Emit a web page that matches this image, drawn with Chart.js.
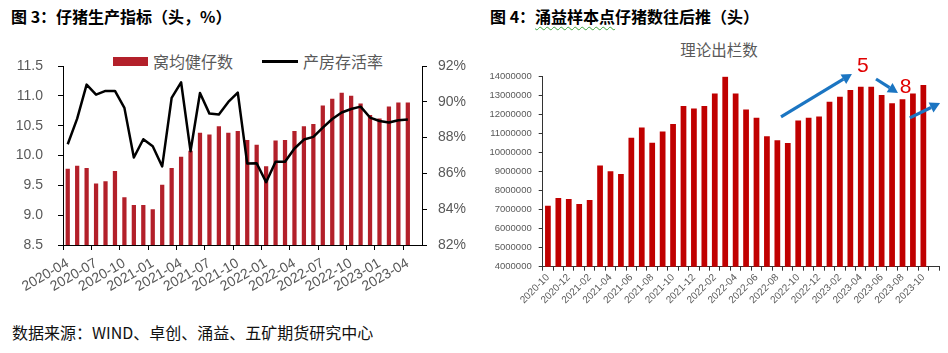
<!DOCTYPE html>
<html><head><meta charset="utf-8">
<script src="https://cdn.jsdelivr.net/npm/chart.js@4/dist/chart.umd.min.js"></script>
<style>
html,body{margin:0;padding:0;background:#fff;width:948px;height:353px;overflow:hidden;position:relative;font-family:"Noto Sans CJK SC",sans-serif}
.t{position:absolute;white-space:nowrap;line-height:1}
#t1{left:11px;top:8px;font-size:16px;font-weight:bold;color:#000}
#t2{left:490px;top:8px;font-size:16px;font-weight:bold;color:#000}
#t2 .wv{text-decoration:underline wavy #3ba33b;text-decoration-thickness:1px;text-underline-offset:3px}
#src{left:12px;top:324px;font-size:16px;color:#111}
#ct2{left:619px;top:42px;width:200px;text-align:center;font-size:15.5px;color:#595959}
#c1{position:absolute;left:0;top:40px}
#c2{position:absolute;left:470px;top:50px}
.lg{position:absolute;font-size:16px;color:#595959;line-height:1;white-space:nowrap}
.sw{position:absolute}
</style></head>
<body>
<div class="t" id="t1">图 3：仔猪生产指标（头，%）</div>
<div class="t" id="t2">图 4：<span class="wv">涌益样本点</span>仔猪数往后推（头）</div>
<div class="t" id="ct2">理论出栏数</div>
<div class="t" id="src">数据来源：WIND、卓创、涌益、五矿期货研究中心</div>
<div id="legend1"></div>
<canvas id="c1" width="470" height="280"></canvas>
<canvas id="c2" width="478" height="270"></canvas>
<script>
// ---------- Chart 3 data ----------
const leftMonths = ['2020-04','2020-05','2020-06','2020-07','2020-08','2020-09','2020-10','2020-11','2020-12',
  '2021-01','2021-02','2021-03','2021-04','2021-05','2021-06','2021-07','2021-08','2021-09','2021-10','2021-11','2021-12',
  '2022-01','2022-02','2022-03','2022-04','2022-05','2022-06','2022-07','2022-08','2022-09','2022-10','2022-11','2022-12',
  '2023-01','2023-02','2023-03','2023-04','2023-05'];
const leftSeriesNames = ['窝均健仔数','产房存活率'];
const litterSize = [9.78,9.83,9.79,9.53,9.57,9.74,9.30,9.17,9.17,
  9.10,9.51,9.79,9.98,10.08,10.38,10.35,10.49,10.38,10.41,10.26,10.18,
  9.82,10.25,10.26,10.41,10.49,10.53,10.84,10.95,11.05,11.00,10.87,10.68,
  10.62,10.82,10.89,10.89,null];
const survivalRate = [87.63,89.06,90.96,90.40,90.61,90.61,89.66,86.89,87.91,
  87.52,86.39,90.22,91.09,87.24,90.49,89.34,89.29,89.99,90.51,86.55,86.57,
  85.51,86.65,86.65,87.39,87.89,88.04,88.56,89.04,89.40,89.60,89.73,89.12,
  88.93,88.84,88.97,89.01,null];

// ---------- Chart 4 data ----------
const rightMonths = ['2020-10','2020-11','2020-12',
  '2021-01','2021-02','2021-03','2021-04','2021-05','2021-06','2021-07','2021-08','2021-09','2021-10','2021-11','2021-12',
  '2022-01','2022-02','2022-03','2022-04','2022-05','2022-06','2022-07','2022-08','2022-09','2022-10','2022-11','2022-12',
  '2023-01','2023-02','2023-03','2023-04','2023-05','2023-06','2023-07','2023-08','2023-09','2023-10','2023-11'];
const rightSeriesName = '理论出栏数';
const pigletOut = [7210000,7610000,7560000,
  7300000,7510000,9330000,9020000,8880000,10790000,11320000,10530000,11110000,11510000,12460000,12330000,
  12460000,13120000,14020000,13120000,12280000,11840000,10860000,10650000,10510000,11700000,11840000,11910000,
  12680000,12950000,13300000,13470000,13470000,13040000,12600000,12810000,13120000,13560000,null];

// annotations (category index, value)
const arrowStarts = [[22.35,11880000],[31.46,13880000],[34.7,11830000]];
const arrowEnds   = [[29.15,14140000],[33.57,13140000],[37.6,12610000]];
const noteTexts = ['5','8'];
const notePoints = [[30.2,14560000],[34.3,13460000]];

const NUM_FONT = '"Liberation Sans", Arial, sans-serif';
const GRAY = '#595959';
const RED1 = '#B3202A';
const RED2 = '#C00000';
const BLUE = '#1B75C2';

// HTML legend for chart 3
(function(){
  const lg = document.getElementById('legend1');
  const items = [
    {swL:113, swT:57, swW:35, swH:9, color:RED1, txL:153},
    {swL:262, swT:60, swW:36, swH:2.5, color:'#000', txL:303}
  ];
  items.forEach((it,i)=>{
    const s = document.createElement('div'); s.className='sw';
    s.style.cssText = `left:${it.swL}px;top:${it.swT}px;width:${it.swW}px;height:${it.swH}px;background:${it.color}`;
    lg.appendChild(s);
    const t = document.createElement('div'); t.className='lg';
    t.style.cssText = `left:${it.txL}px;top:53px`;
    t.textContent = leftSeriesNames[i];
    lg.appendChild(t);
  });
})();

new Chart(document.getElementById('c1'), {
  type:'bar',
  data:{labels:leftMonths, datasets:[
    {type:'bar', label:leftSeriesNames[0], data:litterSize, backgroundColor:RED1, yAxisID:'y',
     categoryPercentage:1, barPercentage:0.45, order:2},
    {type:'line', label:leftSeriesNames[1], data:survivalRate, borderColor:'#000', borderWidth:2.5,
     pointRadius:0, tension:0, yAxisID:'y1', order:1, borderJoinStyle:'round'}
  ]},
  options:{
    responsive:false, animation:false,
    layout:{padding:{top:26,left:0,right:0,bottom:0}},
    plugins:{legend:{display:false}, tooltip:{enabled:false}},
    scales:{
      x:{
        grid:{offset:true, drawOnChartArea:false, drawTicks:true, tickLength:5,
          color:(c)=> (c.index!==undefined && c.index%3===0) ? '#000' : 'rgba(0,0,0,0)'},
        border:{display:true, color:'#000', width:1},
        ticks:{autoSkip:false, maxRotation:30, minRotation:30, color:GRAY, padding:5,
          font:{size:14, family:NUM_FONT},
          callback:(v,i)=> i%3===0 ? leftMonths[i] : ''},
        afterFit:(s)=>{ s.height = 75; }
      },
      y:{
        position:'left', min:8.5, max:11.5,
        grid:{drawOnChartArea:false, drawTicks:true, tickLength:5, color:'#000'},
        border:{display:true, color:'#000', width:1},
        ticks:{stepSize:0.5, padding:15, color:GRAY, font:{size:14, family:NUM_FONT},
          callback:(v)=> Number(v).toFixed(1)},
        afterFit:(s)=>{ s.width = 63; }
      },
      y1:{
        position:'right', min:82, max:92,
        grid:{drawOnChartArea:false, drawTicks:true, tickLength:5, color:'#000'},
        border:{display:true, color:'#000', width:1},
        ticks:{stepSize:2, padding:11, color:GRAY, font:{size:14, family:NUM_FONT},
          callback:(v)=> v + '%'},
        afterFit:(s)=>{ s.width = 48; }
      }
    }
  }
});

const notesPlugin = {
  id:'notes',
  afterDatasetsDraw(chart){
    const {ctx} = chart; const xs = chart.scales.x, ys = chart.scales.y;
    ctx.save();
    arrowStarts.forEach((s,i)=>{
      const e = arrowEnds[i];
      const x1 = xs.getPixelForValue(s[0]), y1 = ys.getPixelForValue(s[1]);
      const x2 = xs.getPixelForValue(e[0]), y2 = ys.getPixelForValue(e[1]);
      const a = Math.atan2(y2-y1, x2-x1), head = 10, hw = 5.5;
      const bx = x2 - head*Math.cos(a), by = y2 - head*Math.sin(a);
      ctx.strokeStyle = BLUE; ctx.lineWidth = 3.2; ctx.lineCap = 'butt';
      ctx.beginPath(); ctx.moveTo(x1,y1); ctx.lineTo(bx,by); ctx.stroke();
      ctx.fillStyle = BLUE; ctx.beginPath();
      ctx.moveTo(x2,y2);
      ctx.lineTo(bx + hw*Math.sin(a), by - hw*Math.cos(a));
      ctx.lineTo(bx - hw*Math.sin(a), by + hw*Math.cos(a));
      ctx.closePath(); ctx.fill();
    });
    ctx.fillStyle = '#E00000';
    ctx.font = '21px ' + NUM_FONT;
    ctx.textAlign = 'center'; ctx.textBaseline = 'middle';
    noteTexts.forEach((t,i)=>{
      ctx.fillText(t, xs.getPixelForValue(notePoints[i][0]), ys.getPixelForValue(notePoints[i][1]));
    });
    ctx.restore();
  }
};

new Chart(document.getElementById('c2'), {
  type:'bar',
  data:{labels:rightMonths, datasets:[
    {label:rightSeriesName, data:pigletOut, backgroundColor:RED2, categoryPercentage:1, barPercentage:0.55}
  ]},
  options:{
    responsive:false, animation:false,
    layout:{padding:{top:26.7,left:0,right:9,bottom:0}},
    plugins:{legend:{display:false}, tooltip:{enabled:false}},
    scales:{
      x:{
        grid:{offset:true, drawOnChartArea:false, drawTicks:true, tickLength:4, color:'#333'},
        border:{display:true, color:'#333', width:1},
        ticks:{autoSkip:false, maxRotation:45, minRotation:45, color:GRAY, padding:1,
          font:{size:10, family:NUM_FONT},
          callback:(v,i)=> i%2===0 ? rightMonths[i] : ''},
        afterFit:(s)=>{ s.height = 53.3; }
      },
      y:{
        min:4000000, max:14000000,
        grid:{drawOnChartArea:false, drawTicks:true, tickLength:4, color:'#333'},
        border:{display:true, color:'#333', width:1},
        ticks:{stepSize:1000000, padding:7, color:GRAY, font:{size:9.5, family:NUM_FONT},
          callback:(v)=> String(v)},
        afterFit:(s)=>{ s.width = 72.7; }
      }
    }
  },
  plugins:[notesPlugin]
});
</script>
</body></html>
